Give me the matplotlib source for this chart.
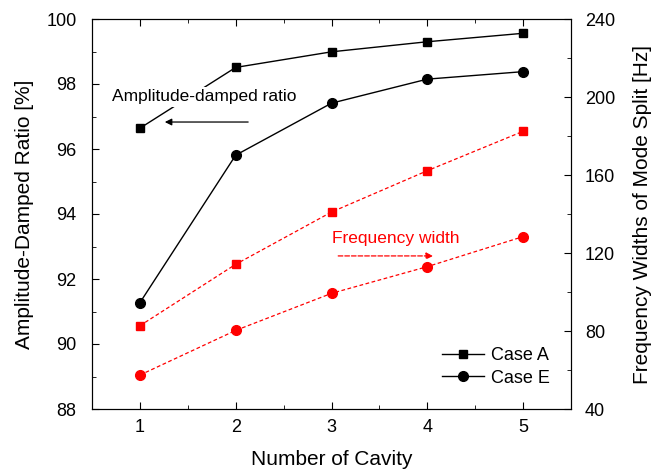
import matplotlib
matplotlib.use('Agg')
import matplotlib.pyplot as plt
from matplotlib.ticker import MultipleLocator

plt.rcParams['font.family'] = ['Liberation Sans', 'DejaVu Sans']

cavity = [1, 2, 3, 4, 5]
# amplitude-damped ratio [%] (left axis)
ratio_a = [96.64, 98.51, 98.99, 99.30, 99.56]
ratio_e = [91.27, 95.81, 97.41, 98.15, 98.38]
# frequency width of mode split [Hz] (right axis)
width_a = [82.7, 114.2, 141.0, 162.2, 182.4]
width_e = [57.4, 80.3, 99.3, 113.0, 128.4]

fig = plt.figure(figsize=(6.52, 4.72), dpi=100)
ax = fig.add_axes([92/652, 1-409/472, (571-92)/652, (409-19)/472])
ax2 = ax.twinx()

la, = ax.plot(cavity, ratio_a, 'k-', marker='s', ms=6, lw=1, label='Case A')
le, = ax.plot(cavity, ratio_e, 'k-', marker='o', ms=7, lw=1, label='Case E')
ax2.plot(cavity, width_a, color='red', ls=(0, (3, 2)), lw=0.9, marker='s', ms=6)
ax2.plot(cavity, width_e, color='red', ls=(0, (3, 2)), lw=0.9, marker='o', ms=7)

ax.set_xlim(0.5, 5.5)
ax.set_ylim(88, 100)
ax2.set_ylim(40, 240)
ax.set_xticks(cavity)
ax.xaxis.set_minor_locator(MultipleLocator(0.5))
ax.yaxis.set_major_locator(MultipleLocator(2))
ax.yaxis.set_minor_locator(MultipleLocator(1))
ax2.yaxis.set_major_locator(MultipleLocator(40))
ax2.yaxis.set_minor_locator(MultipleLocator(20))

ax.tick_params(which='both', direction='in', top=True, labelsize=13)
ax.tick_params(which='major', length=5)
ax.tick_params(which='minor', length=3)
ax.tick_params(axis='y', which='major', pad=11)
ax.tick_params(axis='x', which='major', pad=7.5)
ax2.tick_params(which='both', direction='in', labelsize=13)
ax2.tick_params(which='major', length=5, pad=10)
ax2.tick_params(which='minor', length=3)

ax.set_xlabel('Number of Cavity', fontsize=15, labelpad=10)
ax.set_ylabel('Amplitude-Damped Ratio [%]', fontsize=15, labelpad=9)
ax2.set_ylabel('Frequency Widths of Mode Split [Hz]', fontsize=15, labelpad=13)

ax.text(0.71, 97.6, 'Amplitude-damped ratio', fontsize=12.5, va='center',
        zorder=5, bbox=dict(fc='white', ec='none', pad=2))
ax.annotate('', xy=(1.26, 96.83), xytext=(2.13, 96.83),
            arrowprops=dict(arrowstyle='-|>', color='k', lw=0.9,
                            mutation_scale=10, shrinkA=0, shrinkB=0))
ax.text(3.01, 93.26, 'Frequency width', fontsize=12.5, color='red', va='center')
ax.annotate('', xy=(4.06, 92.71), xytext=(3.07, 92.71),
            arrowprops=dict(arrowstyle='-|>', color='red', lw=0.9, ls='--',
                            mutation_scale=10, shrinkA=0, shrinkB=0))

ax.set_zorder(ax2.get_zorder() + 1)
ax.patch.set_visible(False)

ax.legend(handles=[la, le], loc='upper left', frameon=False, fontsize=13,
          handlelength=2.3, handletextpad=0.4, labelspacing=0.3,
          borderpad=0, borderaxespad=0, bbox_to_anchor=(0.731, 0.158))

fig.savefig('out.png', dpi=100)
